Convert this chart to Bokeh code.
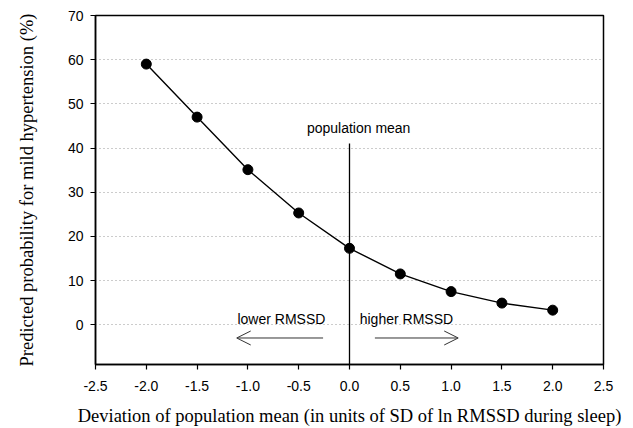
from bokeh.plotting import figure
from bokeh.models import FixedTicker, NumeralTickFormatter, Range1d, Arrow, OpenHead, Label
from bokeh.embed import file_html
from bokeh.resources import INLINE

# data
deviation = [-2.0, -1.5, -1.0, -0.5, 0.0, 0.5, 1.0, 1.5, 2.0]
probability = [59.0, 47.0, 35.1, 25.3, 17.3, 11.5, 7.5, 4.9, 3.3]
x_ticks = [-2.5, -2.0, -1.5, -1.0, -0.5, 0.0, 0.5, 1.0, 1.5, 2.0, 2.5]
y_ticks = [0, 10, 20, 30, 40, 50, 60, 70]
mean_line_x = [0.0, 0.0]
mean_line_y = [41.0, -9.0]
lower_arrow_x = [-0.26, -1.11]
higher_arrow_x = [0.25, 1.07]
arrow_y = -3.0

SANS = "Liberation Sans"
SERIF = "Liberation Serif"

p = figure(width=633, height=428, output_backend="svg", toolbar_location=None,
           x_range=Range1d(-2.5, 2.5), y_range=Range1d(-9, 70),
           min_border_left=95, min_border_right=30, min_border_top=15, min_border_bottom=62)
p.background_fill_color = "white"
p.border_fill_color = "white"
p.outline_line_color = "black"
p.outline_line_width = 1.5

p.xgrid.grid_line_color = None
p.ygrid.ticker = FixedTicker(ticks=y_ticks[:-1])
p.ygrid.grid_line_color = "#999999"
p.ygrid.grid_line_dash = "1 3"
p.ygrid.grid_line_width = 1

p.xaxis.ticker = FixedTicker(ticks=x_ticks)
p.xaxis.formatter = NumeralTickFormatter(format="0.0")
p.yaxis.ticker = FixedTicker(ticks=y_ticks)

for ax in (p.xaxis[0], p.yaxis[0]):
    ax.axis_line_color = "black"
    ax.axis_line_width = 1.5
    ax.major_tick_line_color = "black"
    ax.major_tick_line_width = 1.2
    ax.major_tick_in = 0
    ax.major_tick_out = 5
    ax.minor_tick_line_color = None
    ax.major_label_text_font = SANS
    ax.major_label_text_font_size = "14px"
    ax.major_label_text_color = "black"
    ax.axis_label_text_font = SERIF
    ax.axis_label_text_font_size = "18.5px"
    ax.axis_label_text_font_style = "normal"
    ax.axis_label_text_color = "black"

p.xaxis.axis_label = "Deviation of population mean (in units of SD of ln RMSSD during sleep)"
p.yaxis.axis_label = "Predicted probability for mild hypertension (%)"
p.xaxis.major_label_standoff = 11
p.xaxis.axis_label_standoff = 12
p.yaxis.major_label_standoff = 7
p.yaxis.axis_label_standoff = 28

# population mean line
p.line(mean_line_x, mean_line_y, line_color="black", line_width=1.3)

# curve
p.line(deviation, probability, line_color="black", line_width=1.4)
p.scatter(deviation, probability, size=10, fill_color="black", line_color="black")

# labels
p.add_layout(Label(x=0.09, y=44.5, text="population mean", text_align="center", text_baseline="middle",
                   text_font=SANS, text_font_size="14px", text_color="black"))
p.add_layout(Label(x=-0.67, y=1.3, text="lower RMSSD", text_align="center", text_baseline="middle",
                   text_font=SANS, text_font_size="14px", text_color="black"))
p.add_layout(Label(x=0.56, y=1.3, text="higher RMSSD", text_align="center", text_baseline="middle",
                   text_font=SANS, text_font_size="14px", text_color="black"))

# arrows
p.add_layout(Arrow(x_start=lower_arrow_x[0], y_start=arrow_y, x_end=lower_arrow_x[1], y_end=arrow_y,
                   line_color="#333333", line_width=1,
                   end=OpenHead(size=14, line_color="#333333", line_width=1)))
p.add_layout(Arrow(x_start=higher_arrow_x[0], y_start=arrow_y, x_end=higher_arrow_x[1], y_end=arrow_y,
                   line_color="#333333", line_width=1,
                   end=OpenHead(size=14, line_color="#333333", line_width=1)))

open("out.html", "w").write(file_html(p, INLINE))
